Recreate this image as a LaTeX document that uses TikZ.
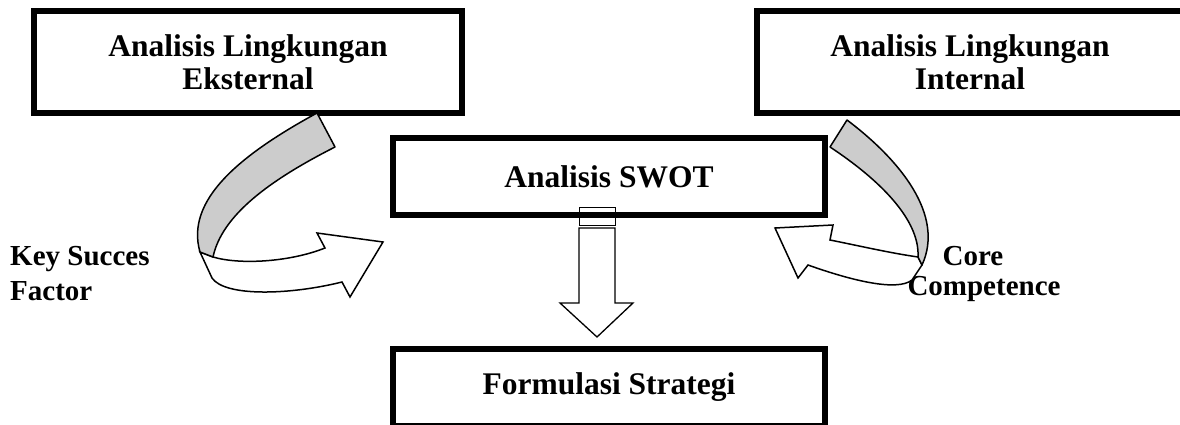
\documentclass[tikz,border=0pt]{standalone}
\usepackage{fontspec}
\setmainfont{Liberation Serif}
\begin{document}
\begin{tikzpicture}[x=1pt,y=-1pt,
  bigbox/.style={draw=black,line width=6pt,fill=white,inner sep=0pt,align=center,
    font=\fontsize{31.5}{33}\selectfont\bfseries},
  lbl/.style={inner sep=0pt,font=\fontsize{29}{35}\selectfont\bfseries},
  ribgrey/.style={draw=black,line width=1.5pt,fill=black!20,line join=round},
  ribwhite/.style={draw=black,line width=1.5pt,fill=white,line join=miter},
  blockarrow/.style={draw=black,line width=1.3pt,fill=white}]
\useasboundingbox (0,0) rectangle (1180,425);
% boxes
\node[bigbox,minimum width=428pt,minimum height=102pt] (ext) at (248,62)
  {Analisis Lingkungan\\Eksternal};
\node[bigbox,minimum width=426pt,minimum height=102pt] (int) at (970,62)
  {Analisis Lingkungan\\Internal};
\node[bigbox,minimum width=432pt,minimum height=77pt] (swot) at (609,176.5)
  {Analisis SWOT};
\node[bigbox,minimum width=432pt,minimum height=77pt] (form) at (609,387.5)
  {Formulasi Strategi};
% labels
\node[lbl,anchor=base west] (ksf1) at (10,265) {Key Succes};
\node[lbl,anchor=base west] (ksf2) at (10,300) {Factor};
\node[lbl,anchor=base] (cc1) at (973,265) {Core};
\node[lbl,anchor=base] (cc2) at (984,295) {Competence};
% left ribbon arrow
\draw[ribwhite] (213,257) .. controls (240,265) and (290,262) .. (325,248)
  -- (317,233) -- (383,242) -- (350,297) -- (342,282)
  .. controls (290,295) and (225,297) .. (212,278) -- (200,252) -- cycle;
\draw[ribgrey] (317,113) .. controls (240,155) and (185,200) .. (200,252)
  -- (213,257) .. controls (222,215) and (270,180) .. (335,147) -- cycle;
% right ribbon arrow
\draw[ribwhite] (918,257) .. controls (890,253) and (860,246) .. (830,240)
  -- (833,225) -- (775,228) -- (798,278) -- (808,265)
  .. controls (850,280) and (897,292) .. (912,280) -- (922,265) -- cycle;
\draw[ribgrey] (847,120) .. controls (900,160) and (945,215) .. (922,265)
  -- (918,257) .. controls (920,220) and (880,180) .. (830,147) -- cycle;
% center block arrow
\draw[line width=1pt] (579,207) rectangle (615,225);
\draw[blockarrow] (579,228) -- (615,228) -- (615,303) -- (633,303) -- (597,337)
  -- (560,303) -- (579,303) -- cycle;
\end{tikzpicture}
\end{document}
